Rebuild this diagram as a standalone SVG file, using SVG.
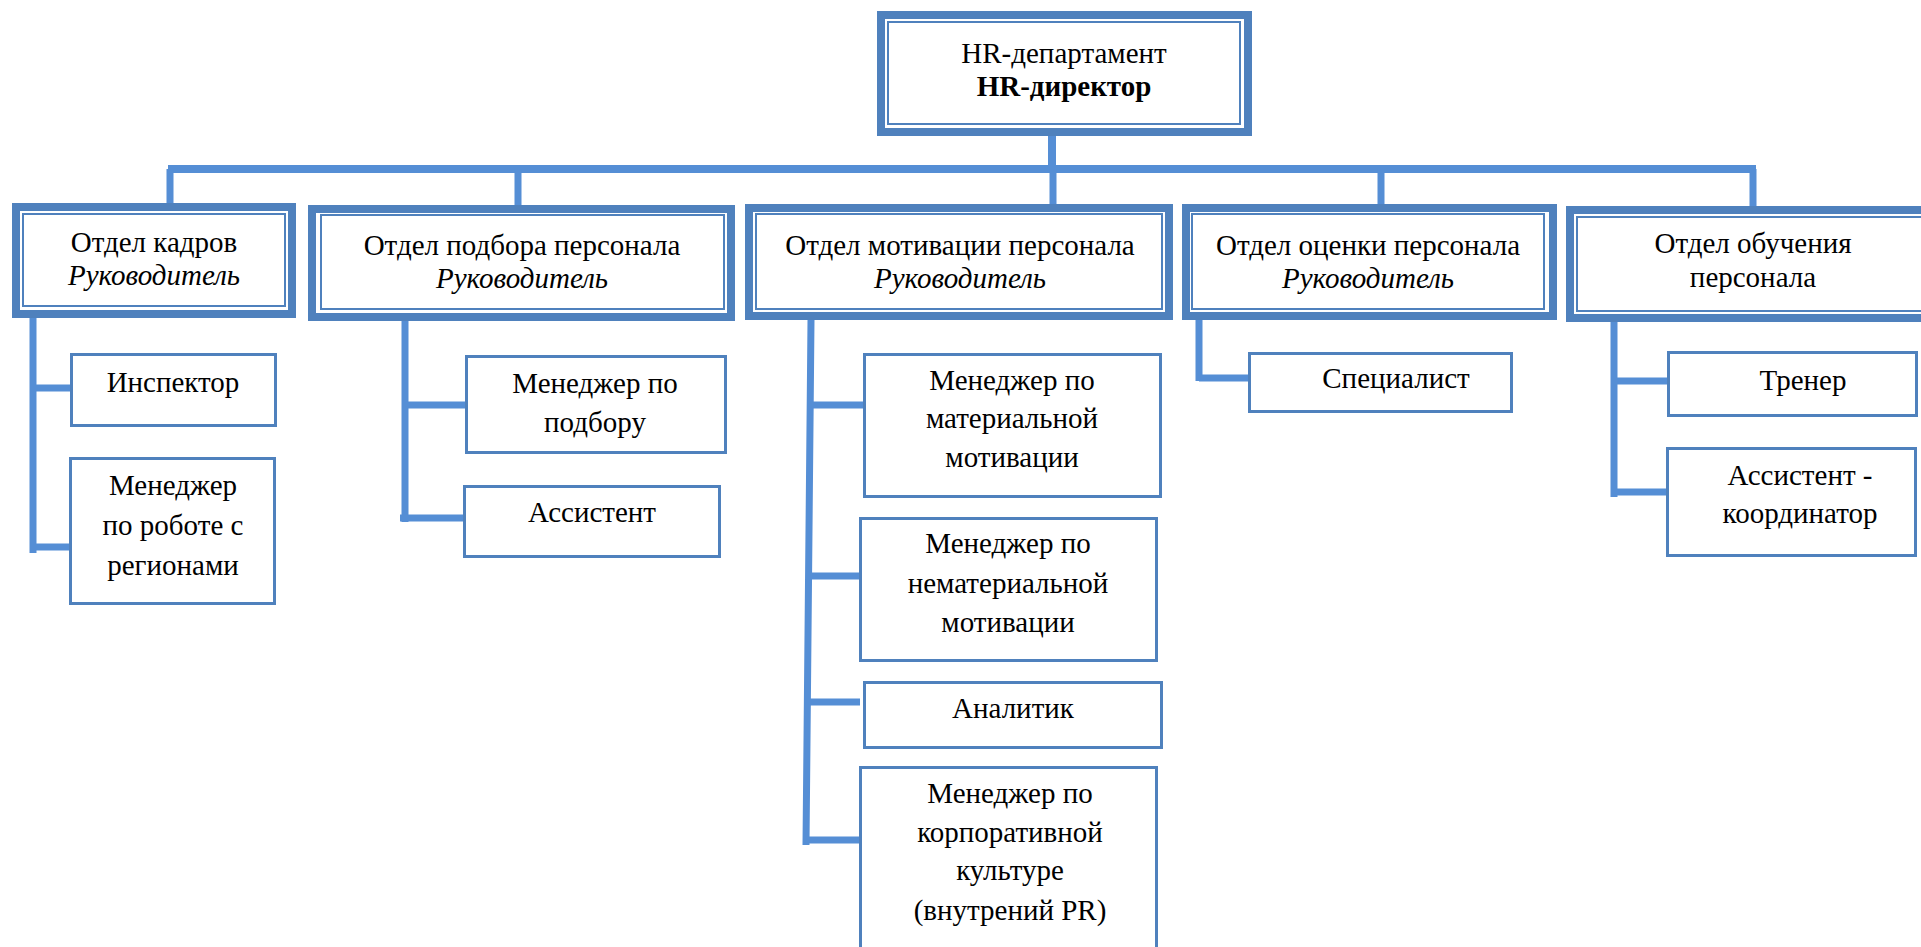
<svg xmlns="http://www.w3.org/2000/svg" width="1921" height="947" viewBox="0 0 1921 947">
<style>
.outer{fill:#fff;stroke:#4f81bd;stroke-width:8}
.inner{fill:none;stroke:#4f81bd;stroke-width:2}
.box{fill:#fff;stroke:#4f81bd;stroke-width:3}
.t{font-family:"Liberation Serif","Times New Roman",serif;font-size:29px;fill:#000;text-anchor:middle}
.b{font-weight:bold}
.i{font-style:italic}
.c{fill:none;stroke:#558ed5;stroke-width:7;stroke-linecap:butt}
.bus{stroke-width:8}
</style>
<rect width="1921" height="947" fill="#fff"/>
<g id="connectors">
<path class="c bus" d="M1052 136V169M168 169H1756"/>
<path class="c" d="M170 169V203M518 169V205M1053 169V204M1381 169V204M1753 169V206"/>
<path class="c" d="M33 318V553M33 388H70M33 547H76"/>
<path class="c" d="M405 321V522M405 405H465M400 518H463"/>
<path class="c" d="M811 320L806 845M810 405H863M809 576H862M807 702H860M804 840H859"/>
<path class="c" d="M1199 312V381M1199 378H1252"/>
<path class="c" d="M1614 322V497M1617 381H1670M1614 492H1670"/>
</g>
<g id="hr-department">
<rect class="outer" x="881" y="15" width="367" height="117"/>
<rect class="inner" x="888" y="22" width="352" height="102"/>
<text class="t" x="1064" y="63">HR-департамент</text>
<text class="t b" x="1064" y="96">HR-директор</text>
</g>
<g id="dept-kadrov">
<rect class="outer" x="16" y="207" width="276" height="107"/>
<rect class="inner" x="23" y="214" width="262" height="92"/>
<text class="t" x="154" y="252">Отдел кадров</text>
<text class="t i" x="154" y="285">Руководитель</text>
</g>
<g id="dept-podbor">
<rect class="outer" x="312" y="209" width="419" height="108"/>
<rect class="inner" x="321" y="215" width="403" height="94"/>
<text class="t" x="522" y="255">Отдел подбора персонала</text>
<text class="t i" x="522" y="288">Руководитель</text>
</g>
<g id="dept-motivation">
<rect class="outer" x="749" y="208" width="420" height="108"/>
<rect class="inner" x="756" y="214" width="406" height="95"/>
<text class="t" x="960" y="255">Отдел мотивации персонала</text>
<text class="t i" x="960" y="288">Руководитель</text>
</g>
<g id="dept-ocenka">
<rect class="outer" x="1186" y="208" width="367" height="108"/>
<rect class="inner" x="1192" y="214" width="352" height="95"/>
<text class="t" x="1368" y="255">Отдел оценки персонала</text>
<text class="t i" x="1368" y="288">Руководитель</text>
</g>
<g id="dept-obuchenie">
<rect class="outer" x="1570" y="210" width="400" height="108"/>
<rect class="inner" x="1577" y="217" width="380" height="94"/>
<text class="t" x="1753" y="253">Отдел обучения</text>
<text class="t" x="1753" y="287">персонала</text>
</g>
<g id="inspektor">
<rect class="box" x="71.5" y="354.5" width="204" height="71"/>
<text class="t" x="173" y="392">Инспектор</text>
</g>
<g id="manager-regions">
<rect class="box" x="70.5" y="458.5" width="204" height="145"/>
<text class="t" x="173" y="495">Менеджер</text>
<text class="t" x="173" y="535">по роботе с</text>
<text class="t" x="173" y="575">регионами</text>
</g>
<g id="manager-podbor">
<rect class="box" x="466.5" y="356.5" width="259" height="96"/>
<text class="t" x="595" y="393">Менеджер по</text>
<text class="t" x="595" y="432">подбору</text>
</g>
<g id="assistent">
<rect class="box" x="464.5" y="486.5" width="255" height="70"/>
<text class="t" x="592" y="522">Ассистент</text>
</g>
<g id="manager-material">
<rect class="box" x="864.5" y="354.5" width="296" height="142"/>
<text class="t" x="1012" y="390">Менеджер по</text>
<text class="t" x="1012" y="428">материальной</text>
<text class="t" x="1012" y="467">мотивации</text>
</g>
<g id="manager-nematerial">
<rect class="box" x="860.5" y="518.5" width="296" height="142"/>
<text class="t" x="1008" y="553">Менеджер по</text>
<text class="t" x="1008" y="593">нематериальной</text>
<text class="t" x="1008" y="632">мотивации</text>
</g>
<g id="analitik">
<rect class="box" x="864.5" y="682.5" width="297" height="65"/>
<text class="t" x="1013" y="718">Аналитик</text>
</g>
<g id="manager-corp">
<rect class="box" x="860.5" y="767.5" width="296" height="200"/>
<text class="t" x="1010" y="803">Менеджер по</text>
<text class="t" x="1010" y="842">корпоративной</text>
<text class="t" x="1010" y="880">культуре</text>
<text class="t" x="1010" y="920">(внутрений PR)</text>
</g>
<g id="specialist">
<rect class="box" x="1249.5" y="353.5" width="262" height="58"/>
<text class="t" x="1396" y="388">Специалист</text>
</g>
<g id="trener">
<rect class="box" x="1668.5" y="352.5" width="248" height="63"/>
<text class="t" x="1803" y="390">Тренер</text>
</g>
<g id="assistent-coord">
<rect class="box" x="1667.5" y="448.5" width="248" height="107"/>
<text class="t" x="1800" y="485">Ассистент -</text>
<text class="t" x="1800" y="523">координатор</text>
</g>
</svg>
